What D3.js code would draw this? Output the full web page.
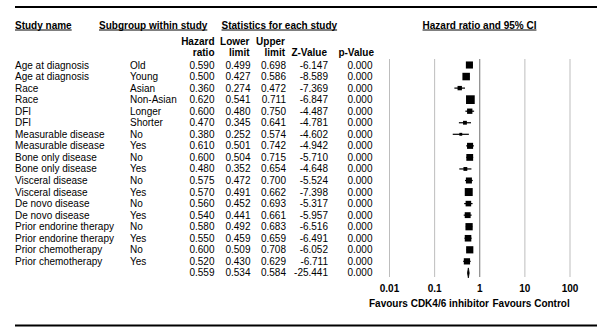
<!DOCTYPE html>
<html>
<head>
<meta charset="utf-8">
<script src="https://cdn.jsdelivr.net/npm/d3@7"></script>
<style>
  html, body { margin: 0; padding: 0; background: #fff; }
  svg { display: block; font-family: "Liberation Sans", Arial, sans-serif; }
</style>
</head>
<body>
<svg id="chart" width="600" height="332"></svg>
<script>
// ---------- data ----------
const studyNames = ["Age at diagnosis","Age at diagnosis","Race","Race","DFI","DFI",
  "Measurable disease","Measurable disease","Bone only disease","Bone only disease",
  "Visceral disease","Visceral disease","De novo disease","De novo disease",
  "Prior endorine therapy","Prior endorine therapy","Prior chemotherapy","Prior chemotherapy"];
const subgroups = ["Old","Young","Asian","Non-Asian","Longer","Shorter","No","Yes","No","Yes",
  "No","Yes","No","Yes","No","Yes","No","Yes"];
const hazardRatios = [0.590,0.500,0.360,0.620,0.600,0.470,0.380,0.610,0.600,0.480,
  0.575,0.570,0.560,0.540,0.580,0.550,0.600,0.520];
const lowerLimits = [0.499,0.427,0.274,0.541,0.480,0.345,0.252,0.501,0.504,0.352,
  0.472,0.491,0.452,0.441,0.492,0.459,0.509,0.430];
const upperLimits = [0.698,0.586,0.472,0.711,0.750,0.641,0.574,0.742,0.715,0.654,
  0.700,0.662,0.693,0.661,0.683,0.659,0.708,0.629];
const zValues = [-6.147,-8.589,-7.369,-6.847,-4.487,-4.781,-4.602,-4.942,-5.710,-4.648,
  -5.524,-7.398,-5.317,-5.957,-6.516,-6.491,-6.052,-6.711];
const pValues = [0.000,0.000,0.000,0.000,0.000,0.000,0.000,0.000,0.000,0.000,
  0.000,0.000,0.000,0.000,0.000,0.000,0.000,0.000];
const summaryHR = 0.559, summaryLower = 0.534, summaryUpper = 0.584, summaryZ = -25.441, summaryP = 0.000;
const axisTicks = [0.01, 0.1, 1, 10, 100];
const axisTickLabels = ["0.01", "0.1", "1", "10", "100"];

// ---------- layout ----------
const svg = d3.select("#chart");
const fmt3 = d3.formatLocale({decimal: ".", thousands: ",", grouping: [3], currency: ["", ""], minus: "-"}).format(".3f");
const nRows = studyNames.length;

const rows = studyNames.map((s, i) => ({
  study: s, sub: subgroups[i], hr: hazardRatios[i], lo: lowerLimits[i], hi: upperLimits[i],
  z: zValues[i], p: pValues[i],
  w: 1 / Math.pow((Math.log(upperLimits[i]) - Math.log(lowerLimits[i])) / 3.92, 2)
}));

const y = d3.scaleLinear().domain([0, nRows]).range([65, 65 + nRows * 11.55]);
const x = d3.scaleLog().domain([0.01, 100]).range([389.5, 570]);
const size = d3.scaleSqrt().domain([0, d3.max(rows, d => d.w)]).range([0, 8.7]);

// rules
svg.append("line").attr("x1", 15).attr("x2", 597).attr("y1", 7).attr("y2", 7)
  .attr("stroke", "#000").attr("stroke-width", 2);
svg.append("line").attr("x1", 15).attr("x2", 597).attr("y1", 325.5).attr("y2", 325.5)
  .attr("stroke", "#000").attr("stroke-width", 2);

// header row (bold, underlined)
function header(txt, xx, yy, anchor) {
  const t = svg.append("text").attr("x", xx).attr("y", yy)
    .attr("font-size", 10).attr("font-weight", "bold").attr("text-anchor", anchor || "start").text(txt);
  const w = t.node().getComputedTextLength();
  const x0 = anchor === "middle" ? xx - w / 2 : (anchor === "end" ? xx - w : xx);
  svg.append("line").attr("x1", x0).attr("x2", x0 + w).attr("y1", yy + 1.5).attr("y2", yy + 1.5)
    .attr("stroke", "#000").attr("stroke-width", 1);
}
header("Study name", 15, 28.5);
header("Subgroup within study", 99, 28.5);
header("Statistics for each study", 221.5, 28.5);
header("Hazard ratio and 95% CI", 479.5, 28.5, "middle");

const colRight = { hr: 214.5, lo: 250.5, hi: 286, z: 328, p: 372.5 };
function sub(lines, xx) {
  lines.forEach((l, k) => {
    if (!l) return;
    svg.append("text").attr("x", xx).attr("y", 44.5 + k * 11).attr("font-size", 10)
      .attr("font-weight", "bold").attr("text-anchor", "end").text(l);
  });
}
sub(["Hazard", "ratio"], colRight.hr);
sub(["Lower", "limit"], colRight.lo - 1);
sub(["Upper", "limit"], colRight.hi - 1);
sub(["", "Z-Value"], colRight.z - 1);
sub(["", "p-Value"], colRight.p + 1.5);

// grid lines
svg.append("g").selectAll("line").data(axisTicks).join("line")
  .attr("x1", d => x(d)).attr("x2", d => x(d))
  .attr("y1", 59).attr("y2", 277)
  .attr("stroke", d => d === 1 ? "#707070" : "#bdbdbd").attr("stroke-width", 1);

// tick labels
svg.append("g").selectAll("text").data(axisTicks).join("text")
  .attr("x", d => x(d)).attr("y", 292).attr("text-anchor", "middle")
  .attr("font-size", 10).attr("font-weight", "bold")
  .text((d, i) => axisTickLabels[i]);

svg.append("text").attr("x", 489).attr("y", 307).attr("text-anchor", "end")
  .attr("font-size", 10).attr("font-weight", "bold").text("Favours CDK4/6 inhibitor");
svg.append("text").attr("x", 492.5).attr("y", 307).attr("text-anchor", "start")
  .attr("font-size", 10).attr("font-weight", "bold").text("Favours Control");

// rows text
const g = svg.append("g").attr("font-size", 10);
const rg = g.selectAll("g.row").data(rows).join("g").attr("class", "row")
  .attr("transform", (d, i) => `translate(0,${y(i) + 3.5})`);
rg.append("text").attr("x", 15).text(d => d.study);
rg.append("text").attr("x", 130).text(d => d.sub);
rg.append("text").attr("x", colRight.hr).attr("text-anchor", "end").text(d => fmt3(d.hr));
rg.append("text").attr("x", colRight.lo).attr("text-anchor", "end").text(d => fmt3(d.lo));
rg.append("text").attr("x", colRight.hi).attr("text-anchor", "end").text(d => fmt3(d.hi));
rg.append("text").attr("x", colRight.z).attr("text-anchor", "end").text(d => fmt3(d.z));
rg.append("text").attr("x", colRight.p).attr("text-anchor", "end").text(d => fmt3(d.p));

// summary row text
const sy = y(nRows) + 3.5;
[[summaryHR, colRight.hr], [summaryLower, colRight.lo], [summaryUpper, colRight.hi],
 [summaryZ, colRight.z], [summaryP, colRight.p]].forEach(([v, xx]) => {
  g.append("text").attr("x", xx).attr("y", sy).attr("text-anchor", "end").text(fmt3(v));
});

// CI lines and squares
const mg = svg.append("g");
mg.selectAll("line.ci").data(rows).join("line").attr("class", "ci")
  .attr("x1", d => x(d.lo)).attr("x2", d => x(d.hi))
  .attr("y1", (d, i) => y(i)).attr("y2", (d, i) => y(i))
  .attr("stroke", "#000").attr("stroke-width", 1.2);
mg.selectAll("rect.box").data(rows).join("rect").attr("class", "box")
  .attr("x", d => x(d.hr) - size(d.w) / 2)
  .attr("y", (d, i) => y(i) - size(d.w) / 2)
  .attr("width", d => size(d.w)).attr("height", d => size(d.w))
  .attr("fill", "#000");

// summary diamond
const dy = y(nRows);
mg.append("path")
  .attr("d", `M${x(summaryLower)},${dy} L${x(summaryHR)},${dy - 5} L${x(summaryUpper)},${dy} L${x(summaryHR)},${dy + 5} Z`)
  .attr("fill", "#000").attr("stroke", "#000").attr("stroke-width", 0.8);
</script>
</body>
</html>
